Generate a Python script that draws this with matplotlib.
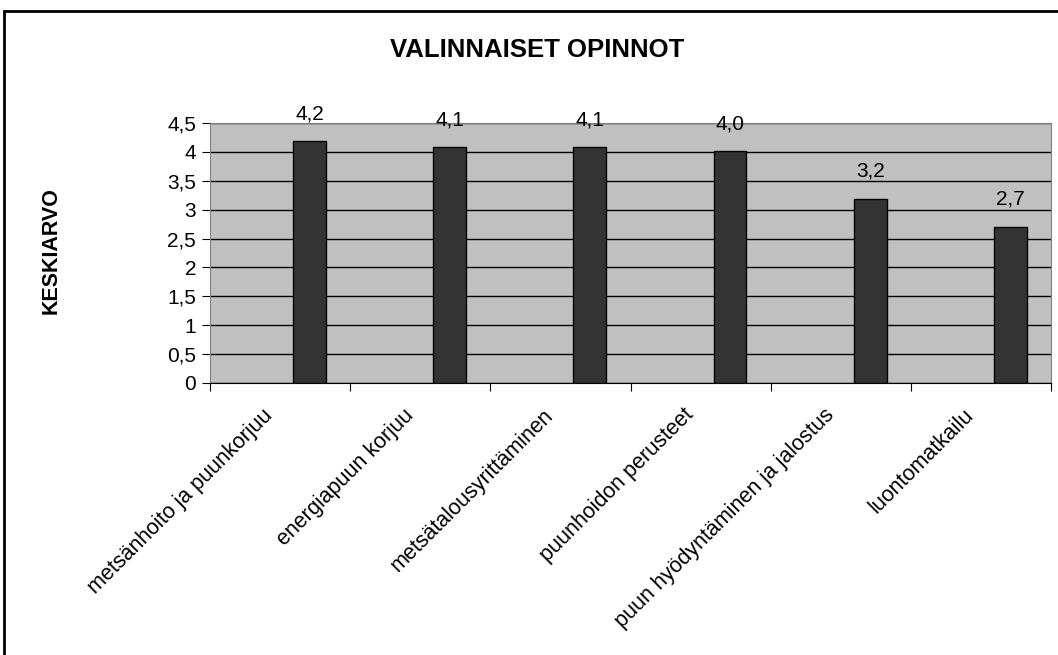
import matplotlib
matplotlib.use("Agg")
import matplotlib.pyplot as plt
import matplotlib.transforms as mtransforms
from matplotlib.patches import Rectangle
import numpy as np

plt.rcParams['font.family'] = ['Liberation Sans', 'DejaVu Sans']

categories = ["metsänhoito ja puunkorjuu", "energiapuun korjuu", "metsätalousyrittäminen",
              "puunhoidon perusteet", "puun hyödyntäminen ja jalostus", "luontomatkailu"]
values = [4.18, 4.08, 4.08, 4.01, 3.19, 2.7]
value_labels = ["4,2", "4,1", "4,1", "4,0", "3,2", "2,7"]
yticks = [0, 0.5, 1, 1.5, 2, 2.5, 3, 3.5, 4, 4.5]
ytick_labels = ["0", "0,5", "1", "1,5", "2", "2,5", "3", "3,5", "4", "4,5"]

fig = plt.figure(figsize=(10.58, 6.55), dpi=100)
ax = fig.add_axes([210 / 1058, 1 - 383 / 655, 841 / 1058, 260 / 655])

# outer chart frame (cut off at right and bottom like the source)
fig.patches.append(Rectangle((4 / 1058, -0.1), 1.2, 1 - 11 / 655 + 0.1, transform=fig.transFigure,
                             fill=False, edgecolor="black", linewidth=2))

ax.set_facecolor("#c0c0c0")
x = np.arange(len(categories))
ax.bar(x + 0.71, values, width=0.235, color="#333333", edgecolor="black", linewidth=1, zorder=3)
for xi, v, lab in zip(x, values, value_labels):
    ax.annotate(lab, (xi + 0.71, v), xytext=(0, 13), textcoords="offset points",
                ha="center", va="bottom", fontsize=15)

ax.set_xlim(0, len(categories))
ax.set_ylim(0, 4.5)
ax.set_yticks(yticks)
ax.set_yticklabels(ytick_labels, fontsize=15)
ax.yaxis.grid(True, color="black", linewidth=1, zorder=1)
ax.set_axisbelow(True)

ax.set_xticks(np.arange(len(categories) + 1))
ax.set_xticklabels([])
ax.set_xticks(x + 0.5, minor=True)
ax.set_xticklabels(categories, minor=True, rotation=45, ha="right", va="center",
                   rotation_mode="anchor", fontsize=15.5)
ax.tick_params(axis="x", which="minor", length=0, pad=21)
ax.tick_params(axis="x", which="major", length=6, direction="out")
ax.tick_params(axis="y", length=6, direction="out", pad=4)

# nudge category labels a little to the left
shift = mtransforms.ScaledTranslation(-10 / 100, 0, fig.dpi_scale_trans)
for lbl in ax.get_xticklabels(minor=True):
    lbl.set_transform(lbl.get_transform() + shift)

for s in ["top", "right", "left"]:
    ax.spines[s].set_color("#808080")
ax.spines["bottom"].set_color("black")

fig.text(537 / 1058, 1 - 50 / 655, "VALINNAISET OPINNOT", ha="center", va="center",
         fontsize=18.5, fontweight="bold")
fig.text(51 / 1058, 1 - 251 / 655, "KESKIARVO", ha="center", va="center", rotation=90,
         fontsize=15.5, fontweight="bold")

fig.savefig("out.png", dpi=100)
